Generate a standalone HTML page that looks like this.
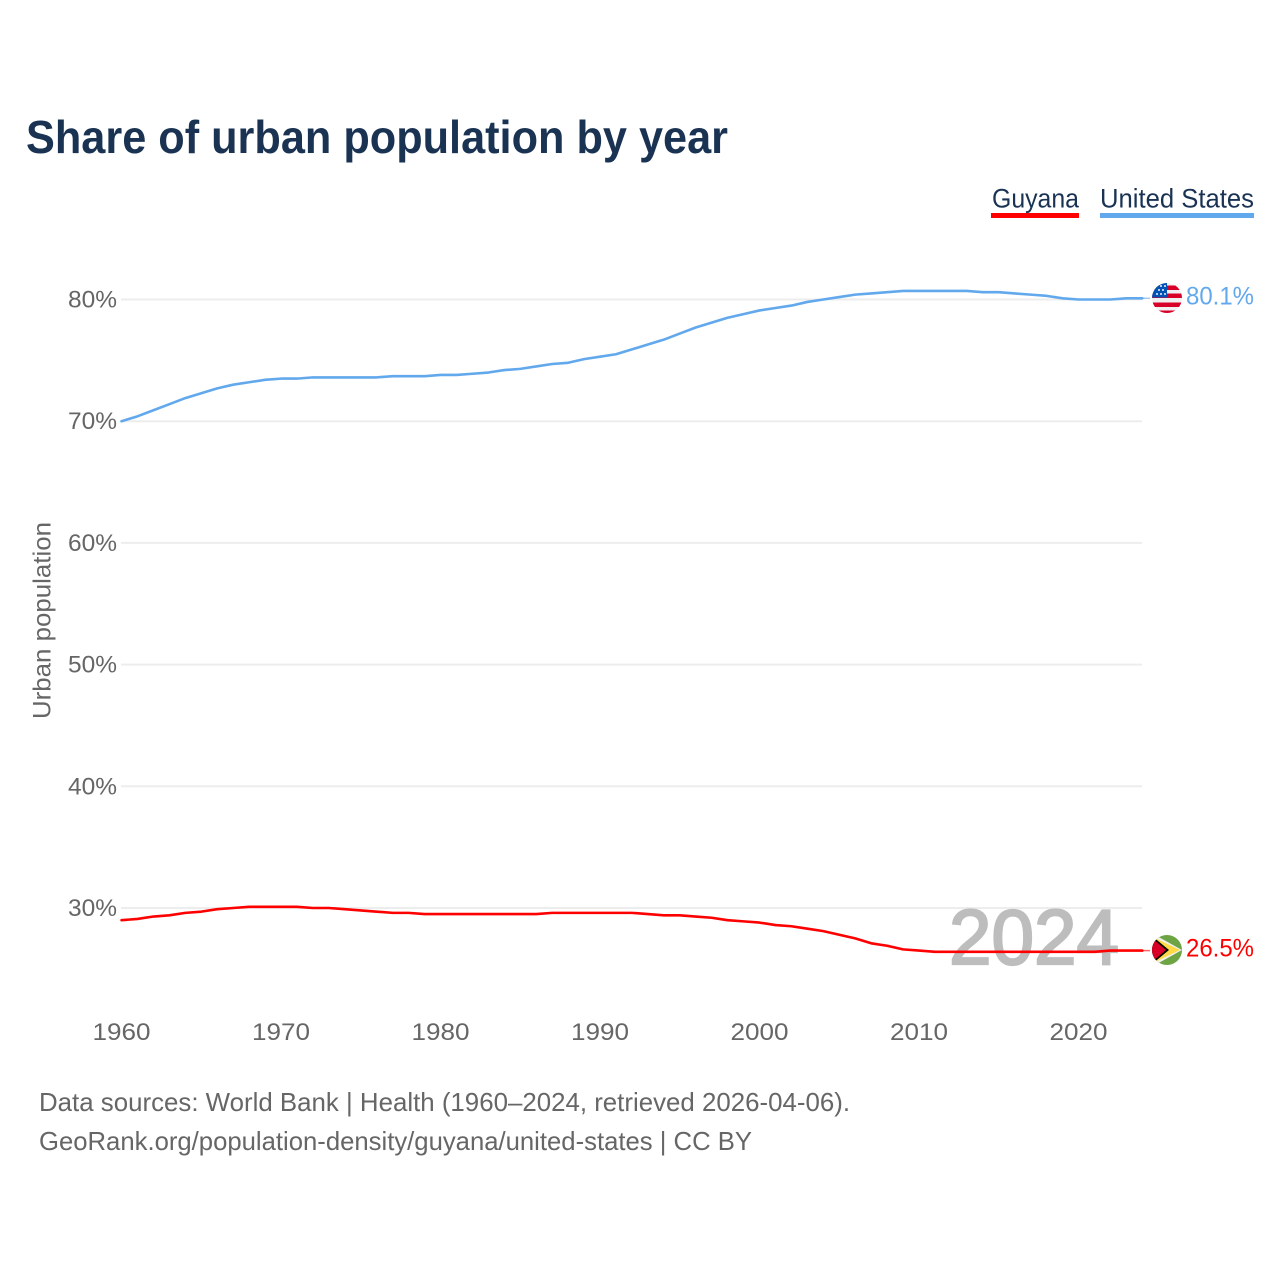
<!DOCTYPE html>
<html lang="en">
<head>
<meta charset="utf-8">
<title>Share of urban population by year</title>
<style>
html,body{margin:0;padding:0;background:#fff;width:1280px;height:1280px;overflow:hidden}
svg{display:block}
text{font-family:"Liberation Sans",sans-serif}
</style>
</head>
<body>
<svg id="chart" width="1280" height="1280" viewBox="0 0 1280 1280" xmlns="http://www.w3.org/2000/svg">
  <defs>
    <clipPath id="clip-us"><circle cx="1167" cy="298" r="15"/></clipPath>
    <clipPath id="clip-gy"><circle cx="1167" cy="950" r="15"/></clipPath>
  </defs>
  <text x="26" y="153" font-size="46" font-weight="700" fill="#1a3353" textLength="702" lengthAdjust="spacingAndGlyphs">Share of urban population by year</text>

  <g>
    <text x="992" y="207.5" font-size="27" fill="#1a3353" textLength="87" lengthAdjust="spacingAndGlyphs">Guyana</text>
    <rect x="991" y="213" width="88" height="5" fill="#ff0000"/>
  </g>
  <g>
    <text x="1100" y="207.5" font-size="27" fill="#1a3353" textLength="154" lengthAdjust="spacingAndGlyphs">United States</text>
    <rect x="1100" y="213" width="154" height="5" fill="#62a8ec"/>
  </g>

  <text transform="translate(50.5 620.5) rotate(-90)" text-anchor="middle" font-size="25" fill="#666666" textLength="197" lengthAdjust="spacingAndGlyphs">Urban population</text>

  <g id="grid"></g>
  <g id="y-ticks"></g>
  <g id="x-ticks"></g>

  <text x="949" y="964" font-size="78" fill="#bdbdbd" stroke="#bdbdbd" stroke-width="2.2" textLength="170" lengthAdjust="spacingAndGlyphs">2024</text>

  <g id="series"></g>

  <g clip-path="url(#clip-us)">
    <rect x="1152" y="283" width="30" height="30" fill="#f0f0f0"/>
    <rect x="1152" y="285.500" width="30" height="4.500" fill="#d80027"/>
    <rect x="1152" y="293.500" width="30" height="4.500" fill="#d80027"/>
    <rect x="1152" y="302.500" width="30" height="4.500" fill="#d80027"/>
    <rect x="1152" y="310.500" width="30" height="4" fill="#d80027"/>
    <rect x="1152" y="283" width="15" height="14.500" fill="#0052b4"/>
    <g fill="#f0f0f0">
      <circle cx="1157" cy="294" r="1"/><circle cx="1161" cy="294" r="1"/><circle cx="1165" cy="294" r="1"/>
      <circle cx="1159" cy="290" r="1"/><circle cx="1163" cy="290" r="1"/>
      <circle cx="1161" cy="286" r="1"/><circle cx="1165" cy="286" r="1"/>
    </g>
  </g>
  <g clip-path="url(#clip-gy)">
    <rect x="1152" y="935" width="30" height="30" fill="#6da544"/>
    <polygon points="1155,935 1182,950 1155,965" fill="#f0f0f0"/>
    <polygon points="1155,938 1180,950 1155,962" fill="#ffda44"/>
    <polygon points="1152,936 1169,950 1152,964" fill="#000000"/>
    <polygon points="1152,938 1166,950 1152,962" fill="#d80027"/>
  </g>

  <text id="label-us" x="1186" y="304.500" font-size="25" fill="#62a8ec" textLength="68" lengthAdjust="spacingAndGlyphs"></text>
  <text id="label-gy" x="1186" y="956.500" font-size="25" fill="#ff0000" textLength="68" lengthAdjust="spacingAndGlyphs"></text>

  <text x="39" y="1111" font-size="26" fill="#666666" textLength="811" lengthAdjust="spacingAndGlyphs">Data sources: World Bank | Health (1960–2024, retrieved 2026-04-06).</text>
  <text x="39" y="1150" font-size="26" fill="#666666" textLength="713" lengthAdjust="spacingAndGlyphs">GeoRank.org/population-density/guyana/united-states | CC BY</text>
</svg>
<script>
const firstYear = 1960;
const xTickYears = [1960, 1970, 1980, 1990, 2000, 2010, 2020];
const yTickValues = [80, 70, 60, 50, 40, 30];
const unitedStatesValues = [70.0, 70.4, 70.9, 71.4, 71.9, 72.3, 72.7, 73.0, 73.2, 73.4, 73.5, 73.5, 73.6, 73.6, 73.6, 73.6, 73.6, 73.7, 73.7, 73.7, 73.8, 73.8, 73.9, 74.0, 74.2, 74.3, 74.5, 74.7, 74.8, 75.1, 75.3, 75.5, 75.9, 76.3, 76.7, 77.2, 77.7, 78.1, 78.5, 78.8, 79.1, 79.3, 79.5, 79.8, 80.0, 80.2, 80.4, 80.5, 80.6, 80.7, 80.7, 80.7, 80.7, 80.7, 80.6, 80.6, 80.5, 80.4, 80.3, 80.1, 80.0, 80.0, 80.0, 80.1, 80.1];
const guyanaValues = [29.0, 29.1, 29.3, 29.4, 29.6, 29.7, 29.9, 30.0, 30.1, 30.1, 30.1, 30.1, 30.0, 30.0, 29.9, 29.8, 29.7, 29.6, 29.6, 29.5, 29.5, 29.5, 29.5, 29.5, 29.5, 29.5, 29.5, 29.6, 29.6, 29.6, 29.6, 29.6, 29.6, 29.5, 29.4, 29.4, 29.3, 29.2, 29.0, 28.9, 28.8, 28.6, 28.5, 28.3, 28.1, 27.8, 27.5, 27.1, 26.9, 26.6, 26.5, 26.4, 26.4, 26.4, 26.4, 26.4, 26.4, 26.4, 26.4, 26.4, 26.4, 26.4, 26.5, 26.5, 26.5];
const unitedStatesLabel = "80.1%";
const guyanaLabel = "26.5%";

const SVG_NS = "http://www.w3.org/2000/svg";
function xScale(year) { return 121.5 + (year - 1960) * 15.95; }
function yScale(value) { return 299.5 + (80 - value) * 12.17; }
function make(tag, attrs, parent) {
  const el = document.createElementNS(SVG_NS, tag);
  for (const key in attrs) el.setAttribute(key, attrs[key]);
  parent.appendChild(el);
  return el;
}

const grid = document.getElementById("grid");
const yTicks = document.getElementById("y-ticks");
const xTicks = document.getElementById("x-ticks");
const series = document.getElementById("series");

yTickValues.forEach(function (value) {
  const line = make("line", { x1: 121, x2: 1142, y1: yScale(value), y2: yScale(value), stroke: "#ededed", "stroke-width": 2 }, grid);
  
  
  const label = make("text", { x: 117, y: yScale(value) + 8, "text-anchor": "end", "font-size": 24, fill: "#666666", textLength: 49, lengthAdjust: "spacingAndGlyphs" }, yTicks);
  
  
  label.textContent = value + "%";
});

xTickYears.forEach(function (year) {
  const label = make("text", { x: xScale(year), y: 1040, "text-anchor": "middle", "font-size": 24, fill: "#666666", textLength: 58, lengthAdjust: "spacingAndGlyphs" }, xTicks);
  
  
  label.textContent = year;
});

function linePath(values) {
  return values.map(function (value, i) {
    return (i ? "L" : "M") + xScale(firstYear + i).toFixed(2) + " " + yScale(value).toFixed(2);
  }).join(" ");
}

const usLine = make("path", { d: linePath(unitedStatesValues), fill: "none", stroke: "#62a8ec", "stroke-width": 2.6, "stroke-linejoin": "round", "stroke-linecap": "round" }, series);


const gyLine = make("path", { d: linePath(guyanaValues), fill: "none", stroke: "#ff0000", "stroke-width": 2.6, "stroke-linejoin": "round", "stroke-linecap": "round" }, series);



const usLast = unitedStatesValues[unitedStatesValues.length - 1];
const gyLast = guyanaValues[guyanaValues.length - 1];
const usConnector = make("line", { x1: xScale(2024), x2: 1150, y1: yScale(usLast), y2: yScale(usLast), stroke: "#62a8ec", "stroke-width": 1.5, opacity: 0.6 }, series);


const gyConnector = make("line", { x1: xScale(2024), x2: 1150, y1: yScale(gyLast), y2: yScale(gyLast), stroke: "#ff0000", "stroke-width": 1.5, opacity: 0.6 }, series);



document.getElementById("label-us").textContent = unitedStatesLabel;
document.getElementById("label-gy").textContent = guyanaLabel;
</script>
</body>
</html>
